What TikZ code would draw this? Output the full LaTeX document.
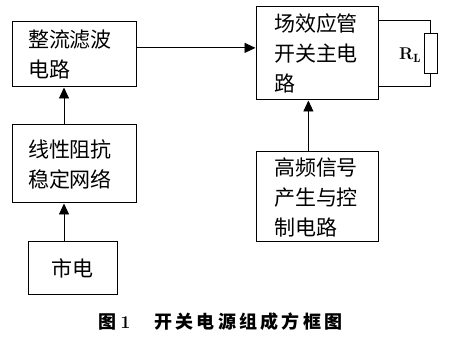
\documentclass[tikz,border=0pt]{standalone}
\usepackage{fontspec}
\newfontfamily\cjk{Noto Sans CJK SC}
\usetikzlibrary{arrows.meta,calc}
\begin{document}
\begin{tikzpicture}[x=1pt,y=-1pt,
  blk/.style={draw,line width=1pt,inner sep=0pt,align=left,font=\cjk\fontsize{21}{30}\selectfont},
  arr/.style={line width=0.9pt,-{Triangle[width=10pt,length=11pt]}},
  wire/.style={line width=0.9pt}]
\useasboundingbox (0,0) rectangle (451,344);
\node[blk,minimum width=124pt,minimum height=65pt,text width=92pt] (rect) at (74,54.5) {整流滤波\\电路};
\node[blk,minimum width=124pt,minimum height=78pt,text width=92pt] (lisn) at (74,164) {线性阻抗\\稳定网络};
\node[blk,minimum width=89pt,minimum height=53pt,align=center] (mains) at (72.5,268.5) {市电};
\node[blk,minimum width=122pt,minimum height=93pt,text width=86pt] (fet) at (317,53.5) {场效应管\\开关主电\\路};
\node[blk,minimum width=122pt,minimum height=90pt,text width=86pt] (osc) at (317,197) {高频信号\\产生与控\\制电路};
\node[draw,line width=0.9pt,minimum width=13pt,minimum height=40pt,inner sep=0pt] (rl) at (430.5,53) {};
\node[font=\fontsize{17}{20}\selectfont,inner sep=0pt] (rllab) at (410,55) {\textbf{R}$_{\mathbf{L}}$};
\coordinate (t1) at ($(fet.north east)!0.15!(fet.south east)$);
\coordinate (t2) at ($(fet.north east)!0.85!(fet.south east)$);
\draw[wire] (t1) -- (t1 -| rl.north) -- (rl.north);
\draw[wire] (rl.south) -- (rl.south |- t2) -- (t2);
\coordinate (a1) at ($(rect.north east)!0.40!(rect.south east)$);
\draw[arr] (a1) -- (a1 -| fet.west);
\coordinate (a2) at ($(osc.north west)!0.43!(osc.north east)$);
\draw[arr] (a2) -- (a2 |- fet.south);
\coordinate (a3) at ($(lisn.north west)!0.42!(lisn.north east)$);
\draw[arr] (a3) -- (a3 |- rect.south);
\coordinate (a4) at (mains.north -| a3);
\draw[arr] (a4) -- (a4 |- lisn.south);
\node[font=\cjk\bfseries\fontsize{18}{20}\selectfont,anchor=west,inner sep=0pt] (cap) at (98,322) {图 \textrm{\textbf{1}}\hspace{24pt}\addfontfeature{LetterSpace=18}开关电源组成方框图};
\end{tikzpicture}
\end{document}
